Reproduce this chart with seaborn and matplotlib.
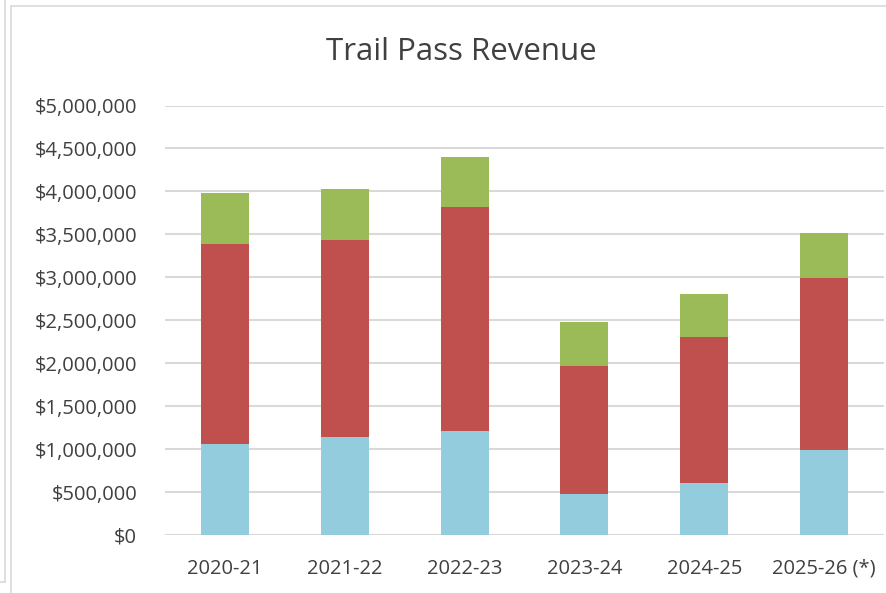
import matplotlib
matplotlib.use("Agg")
import matplotlib.pyplot as plt
import seaborn as sns
import pandas as pd
import numpy as np
from matplotlib.ticker import FuncFormatter
from matplotlib.lines import Line2D

seasons = ["2020-21", "2021-22", "2022-23", "2023-24", "2024-25", "2025-26 (*)"]
blue_vals = [1055000, 1136000, 1213000, 473000, 608000, 985000]
red_vals = [2332000, 2298000, 2601000, 1500000, 1694000, 2007000]
green_vals = [598000, 589000, 585000, 504000, 508000, 520000]

c_blue = "#93CDDD"
c_red = "#C0504D"
c_green = "#9BBB59"
txt = "#404040"

sns.set_theme(style="white")
plt.rcParams["font.family"] = ["Open Sans", "DejaVu Sans"]

df = pd.DataFrame({"season": seasons, "blue": blue_vals, "red": red_vals, "green": green_vals})
df["lvl1"] = df["blue"]
df["lvl2"] = df["blue"] + df["red"]
df["lvl3"] = df["lvl2"] + df["green"]

fig = plt.figure(figsize=(8.86, 5.93), dpi=100)
ax = fig.add_axes([165 / 886, 58 / 593, 719 / 886, 429.5 / 593])

for col, color in [("lvl3", c_green), ("lvl2", c_red), ("lvl1", c_blue)]:
    sns.barplot(data=df, x="season", y=col, color=color, width=0.4,
                saturation=1, ax=ax, zorder=3, edgecolor="none")

ax.set_ylim(0, 5000000)
ax.set_xlim(-0.5, 5.5)
ax.set_yticks(np.arange(0, 5000001, 500000))
ax.yaxis.set_major_formatter(FuncFormatter(lambda v, p: "${:,.0f}".format(v)))
ax.grid(axis="y", color="#D9D9D9", linewidth=1.5, zorder=0)
ax.set_axisbelow(True)
for s in ax.spines.values():
    s.set_visible(False)
ax.set_xlabel("")
ax.set_ylabel("")
ax.tick_params(axis="y", length=0, pad=20, labelsize=14.5, labelcolor=txt)
ax.tick_params(axis="x", length=0, pad=17, labelsize=14.5, labelcolor=txt)

fig.text(461 / 886, 1 - 52 / 593, "Trail Pass Revenue", ha="center", va="center",
         fontsize=22.5, color=txt)

# chart area borders
fig.add_artist(Line2D([11 / 886, 11 / 886], [0, 1 - 6 / 593], transform=fig.transFigure,
                      color="#D9D9D9", linewidth=1.2))
fig.add_artist(Line2D([11 / 886, 1], [1 - 6 / 593, 1 - 6 / 593], transform=fig.transFigure,
                      color="#D9D9D9", linewidth=1.2))
fig.add_artist(Line2D([4.5 / 886, 4.5 / 886], [1 - 582 / 593, 1], transform=fig.transFigure,
                      color="#D9D9D9", linewidth=1.2))
fig.add_artist(Line2D([0, 4.5 / 886], [1 - 582 / 593, 1 - 582 / 593], transform=fig.transFigure,
                      color="#D9D9D9", linewidth=1.2))

fig.savefig("out.png", dpi=100)
